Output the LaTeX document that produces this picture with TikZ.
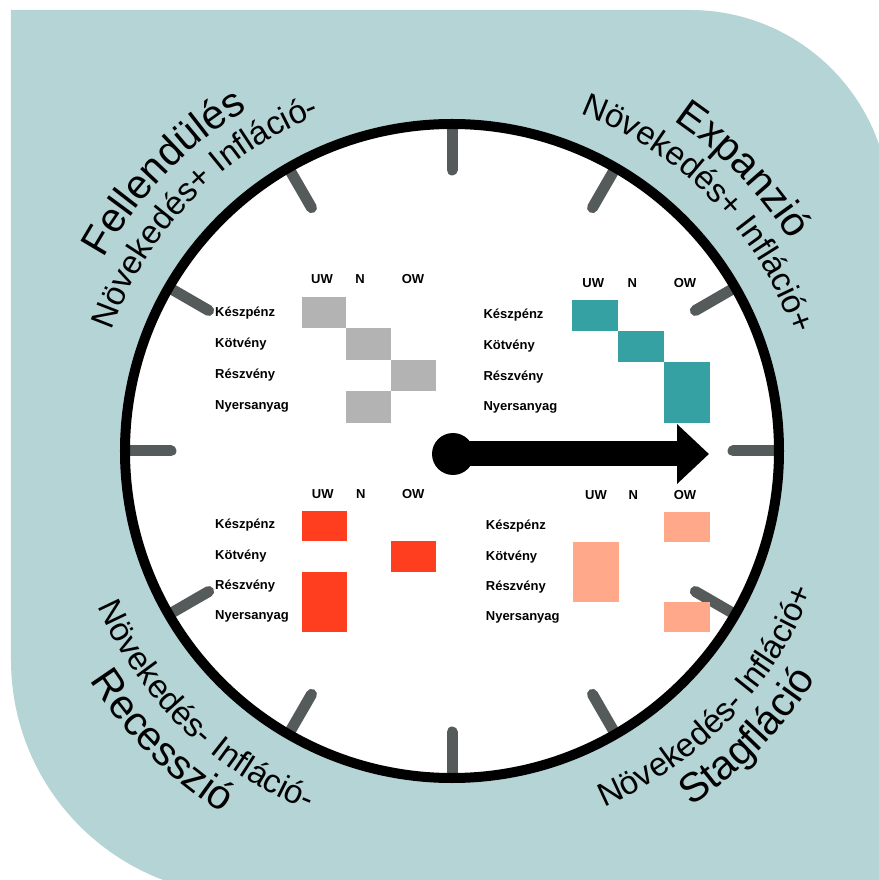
\documentclass[tikz,border=0pt]{standalone}
\usepackage{fontspec}
\setmainfont{Liberation Sans}
\usetikzlibrary{arrows.meta,decorations.text}

\definecolor{bgteal}{HTML}{B5D4D6}
\definecolor{tickgray}{HTML}{555A5A}
\definecolor{cellgray}{HTML}{B3B3B3}
\definecolor{cellteal}{HTML}{36A1A3}
\definecolor{cellred}{HTML}{FF3D1F}
\definecolor{cellsalmon}{HTML}{FFA88A}
\newcommand\arctitlefont{\fontsize{41}{49}\selectfont}
\newcommand\arcsubfont{\fontsize{33}{40}\selectfont}

\begin{document}
\begin{tikzpicture}[x=1pt,y=1pt,
  clocktick/.style={line width=11pt,line cap=round,tickgray},
  lbl/.style={font=\fontsize{13}{15}\selectfont\bfseries,inner sep=0pt,text height=9.3pt,text depth=0pt,anchor=west},
  hdr/.style={lbl,anchor=center},
  bigarc/.style={decorate,decoration={text along path,text align=center,text={|\arctitlefont|#1}}},
  smallarc/.style={decorate,decoration={text along path,text align=center,text={|\arcsubfont|#1}}}]
\useasboundingbox (-452,-429) rectangle (426,451);
\fill[bgteal] (-441,441) -- (238,441) arc[start angle=90,end angle=0,radius=200] -- (438,-444) -- (-206,-444) arc[start angle=270,end angle=180,radius=235] -- cycle;

\fill[white] (0,0) circle[radius=327];
\draw[clocktick] (0:281) -- (0:322);
\draw[clocktick] (30:281) -- (30:322);
\draw[clocktick] (60:281) -- (60:322);
\draw[clocktick] (90:281) -- (90:322);
\draw[clocktick] (120:281) -- (120:322);
\draw[clocktick] (150:281) -- (150:322);
\draw[clocktick] (180:281) -- (180:322);
\draw[clocktick] (210:281) -- (210:322);
\draw[clocktick] (240:281) -- (240:322);
\draw[clocktick] (270:281) -- (270:322);
\draw[clocktick] (300:281) -- (300:322);
\draw[clocktick] (330:281) -- (330:322);
\draw[line width=10pt] (0,0) circle[radius=327];

\path[bigarc=Fellendülés] (166:398) arc[start angle=166,end angle=106,radius=398];
\path[smallarc={Növekedés+ Infláció-}] (176:361) arc[start angle=176,end angle=96,radius=361];
\path[bigarc=Expanzió] (74:398) arc[start angle=74,end angle=14,radius=398];
\path[smallarc={Növekedés+ Infláció+}] (84:361) arc[start angle=84,end angle=4,radius=361];
\path[smallarc={Növekedés- Infláció-}] (186:387) arc[start angle=186,end angle=266,radius=387];
\path[bigarc=Recesszió] (195:429) arc[start angle=195,end angle=255,radius=429];
\path[smallarc={Növekedés- Infláció+}] (276:387) arc[start angle=276,end angle=356,radius=387];
\path[bigarc=Stagfláció] (286:429) arc[start angle=286,end angle=346,radius=429];

\fill[cellgray] (-150,154.3) rectangle (-105.5,122.7);
\fill[cellgray] (-105.5,122.7) rectangle (-61,91.1);
\fill[cellgray] (-61,91.1) rectangle (-16,59.5);
\fill[cellgray] (-105.5,59.5) rectangle (-61,27.9);
\node[hdr] (ulUW) at (-130,172) {UW};
\node[hdr] (ulN) at (-92,172) {N};
\node[hdr] (ulOW) at (-39,172) {OW};
\node[lbl] (ulK) at (-237,139.3) {Készpénz};
\node[lbl] (ulKo) at (-237,108.3) {Kötvény};
\node[lbl] (ulR) at (-237,77) {Részvény};
\node[lbl] (ulNy) at (-237,46) {Nyersanyag};

\fill[cellteal] (120.3,151) rectangle (166.3,120);
\fill[cellteal] (166.3,120) rectangle (212.3,89.3);
\fill[cellteal] (212.3,89.3) rectangle (258,28.3);
\node[hdr] (urUW) at (141.3,167.7) {UW};
\node[hdr] (urN) at (180.3,167.7) {N};
\node[hdr] (urOW) at (233,167.7) {OW};
\node[lbl] (urK) at (31.3,137) {Készpénz};
\node[lbl] (urKo) at (31.3,106) {Kötvény};
\node[lbl] (urR) at (31.3,75.3) {Részvény};
\node[lbl] (urNy) at (31.3,45.3) {Nyersanyag};

\fill[cellred] (-149.7,-60) rectangle (-105.3,-90);
\fill[cellred] (-61,-90) rectangle (-16,-120.7);
\fill[cellred] (-149.7,-120.7) rectangle (-105.3,-180.7);
\node[hdr] (llUW) at (-129.3,-43) {UW};
\node[hdr] (llN) at (-91.3,-43) {N};
\node[hdr] (llOW) at (-38.7,-43) {OW};
\node[lbl] (llK) at (-237,-73.3) {Készpénz};
\node[lbl] (llKo) at (-237,-104) {Kötvény};
\node[lbl] (llR) at (-237,-134) {Részvény};
\node[lbl] (llNy) at (-237,-164) {Nyersanyag};

\fill[cellsalmon] (212.3,-60.7) rectangle (258,-90.7);
\fill[cellsalmon] (121.3,-90.7) rectangle (167.3,-151.3);
\fill[cellsalmon] (212.3,-151.3) rectangle (258,-181.3);
\node[hdr] (lrUW) at (144,-44) {UW};
\node[hdr] (lrN) at (181.3,-44) {N};
\node[hdr] (lrOW) at (233,-44) {OW};
\node[lbl] (lrK) at (33.7,-74) {Készpénz};
\node[lbl] (lrKo) at (33.7,-105) {Kötvény};
\node[lbl] (lrR) at (33.7,-135) {Részvény};
\node[lbl] (lrNy) at (33.7,-165) {Nyersanyag};

\node (pivot) at (1,-3) [circle,fill=black,minimum size=42pt,inner sep=0pt]{};
\coordinate (tip) at (257,-3);
\draw[line width=25pt,-{Triangle[length=32pt,width=58pt]}] (pivot.center) -- (tip);
\end{tikzpicture}
\end{document}
